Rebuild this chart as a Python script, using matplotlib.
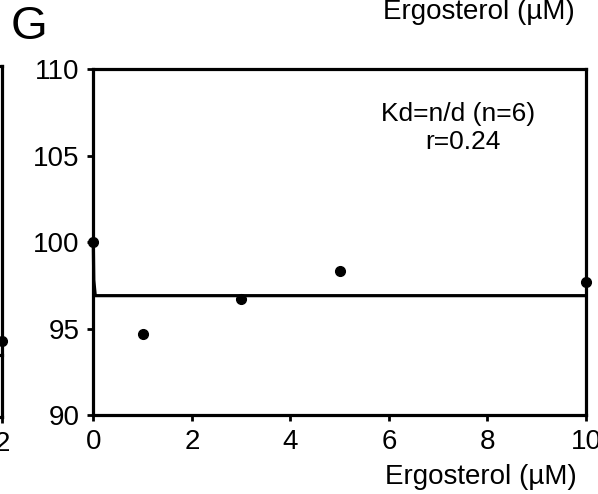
import matplotlib
matplotlib.use("Agg")
import matplotlib.pyplot as plt

plt.rcParams['font.family'] = ['Liberation Sans', 'DejaVu Sans']

# panel G data
ergosterol = [0, 1, 3, 5, 10]
response = [100, 94.7, 96.7, 98.3, 97.7]
fit_x = [0, 0.01, 0.04, 10]
fit_y = [100, 97.8, 96.9, 96.9]
x_ticks = [0, 2, 4, 6, 8, 10]
y_ticks = [90, 95, 100, 105, 110]

# neighbouring panel (only its right edge shows)
left_x = [2]
left_y = [94.3]
left_fit_x = [1.9, 2]
left_fit_y = [93.5, 93.5]


def style_axes(ax):
    for side in ['left', 'right', 'top', 'bottom']:
        ax.spines[side].set_linewidth(2.3)
    ax.tick_params(direction='out', length=4, width=2, labelsize=20, pad=6)


fig = plt.figure(figsize=(5.98, 4.94), dpi=100)

# main panel
ax = fig.add_axes([0.156, 0.160, 0.824, 0.700])
ax.plot(fit_x, fit_y, color='black', lw=2.3, clip_on=False)
ax.plot(ergosterol, response, 'o', color='black', ms=7, clip_on=False, zorder=5)
ax.set_xlim(0, 10)
ax.set_ylim(90, 110)
ax.set_xticks(x_ticks)
ax.set_yticks(y_ticks)
style_axes(ax)
ax.set_xlabel('Ergosterol (µM)', fontsize=20, va='center')
ax.xaxis.set_label_coords(0.787, -0.178)
ax.text(0.74, 0.87, 'Kd=n/d (n=6)', transform=ax.transAxes, ha='center', va='center', fontsize=19)
ax.text(0.75, 0.79, 'r=0.24', transform=ax.transAxes, ha='center', va='center', fontsize=19)

# partial panel on the left
ax2 = fig.add_axes([-0.70, 0.156, 0.704, 0.711])
ax2.plot(left_fit_x, left_fit_y, color='black', lw=2.3, clip_on=False)
ax2.plot(left_x, left_y, 'o', color='black', ms=7, clip_on=False, zorder=5)
ax2.set_xlim(0, 2)
ax2.set_ylim(90, 110)
ax2.set_xticks([2])
ax2.set_yticks([])
style_axes(ax2)

fig.text(0.017, 0.945, 'G', fontsize=34, ha='left', va='center')
fig.text(0.80, 0.975, 'Ergosterol (µM)', fontsize=20, ha='center', va='center')

fig.savefig('out.png', dpi=100)
